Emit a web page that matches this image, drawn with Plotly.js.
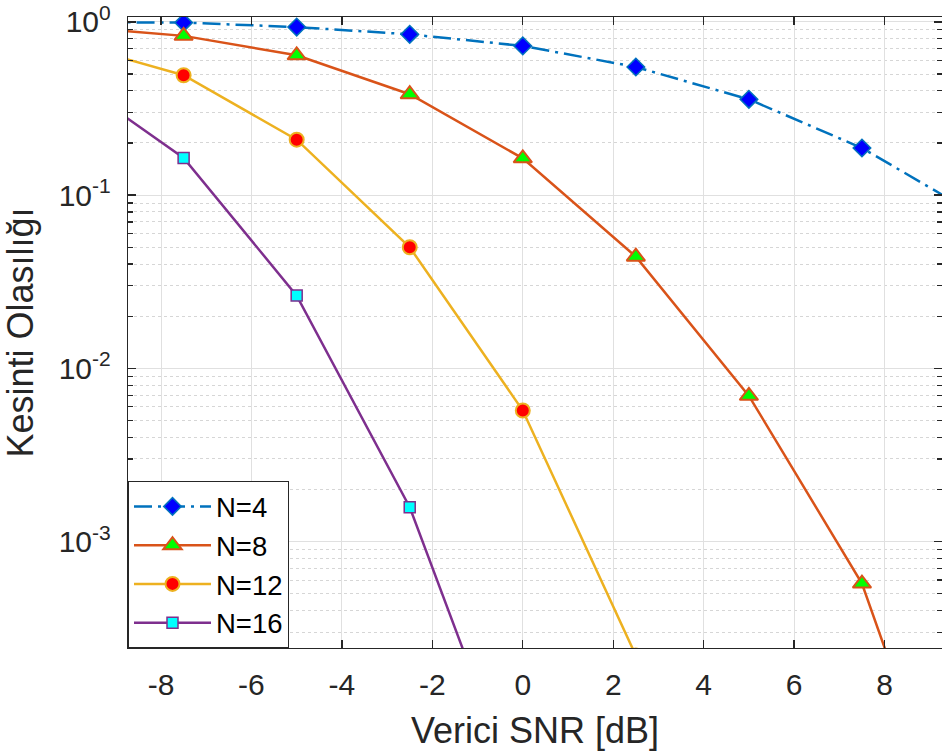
<!DOCTYPE html>
<html>
<head>
<meta charset="utf-8">
<script src="https://cdn.plot.ly/plotly-3.0.1.min.js"></script>
<style>
html, body { margin: 0; padding: 0; background: #ffffff; }
#chart { width: 942px; height: 755px; }
</style>
</head>
<body>
<div id="chart"></div>
<script>
// SNR grid (dB) of the simulated points
const snr = [-10, -7.5, -5, -2.5, 0, 2.5, 5, 7.5, 10];
// Outage probability
const pN4  = [0.997, 0.99, 0.933, 0.847, 0.726, 0.549, 0.357, 0.187, 0.078];
const pN8  = [0.94, 0.83, 0.641, 0.382, 0.163, 0.0441, 0.00694, 0.000573, 0.0000081];
const pN12 = [0.752, 0.492, 0.209, 0.050, 0.00571, 0.00022];
const pN16 = [0.473, 0.164, 0.0263, 0.00158, 0.0000286];
const seriesNames = ['N=4', 'N=8', 'N=12', 'N=16'];

// Tick labels
const xTickVals = [-8, -6, -4, -2, 0, 2, 4, 6, 8];
const xTickText = ['-8', '-6', '-4', '-2', '0', '2', '4', '6', '8'];
const yTickVals = [1, 0.1, 0.01, 0.001];
const yTickText = ['10<sup>0</sup>', '10<sup>-1</sup>', '10<sup>-2</sup>', '10<sup>-3</sup>'];
const yMinorMantissas = [2, 3, 4, 5, 6, 7, 8, 9];
const yMinorDecades = [0.0001, 0.001, 0.01, 0.1];

const yMinorVals = [];
yMinorDecades.forEach(d => yMinorMantissas.forEach(m => yMinorVals.push(m * d)));

const traces = [
  {
    x: snr, y: pN4, name: seriesNames[0], type: 'scatter', mode: 'lines+markers',
    line: { color: '#0072BD', width: 2.5, dash: '18px,6px,3px,6px' },
    marker: { symbol: 'diamond', size: 13.5, color: '#0000FF', line: { color: '#0072BD', width: 1.5 } }
  },
  {
    x: snr, y: pN8, name: seriesNames[1], type: 'scatter', mode: 'lines+markers',
    line: { color: '#D95319', width: 2.5 },
    marker: { symbol: 'triangle-up', size: 16, color: '#00FF00', line: { color: '#D95319', width: 2 } }
  },
  {
    x: snr.slice(0, pN12.length), y: pN12, name: seriesNames[2], type: 'scatter', mode: 'lines+markers',
    line: { color: '#EDB120', width: 2.5 },
    marker: { symbol: 'circle', size: 14, color: '#FF0000', line: { color: '#EDB120', width: 2 } }
  },
  {
    x: snr.slice(0, pN16.length), y: pN16, name: seriesNames[3], type: 'scatter', mode: 'lines+markers',
    line: { color: '#7E2F8E', width: 2.5 },
    marker: { symbol: 'square', size: 11, color: '#00FFFF', line: { color: '#7E2F8E', width: 1.5 } }
  }
];

const axisColor = '#262626';
const fontFamily = '"Liberation Sans", Arial, Helvetica, sans-serif';

const layout = {
  width: 942, height: 755,
  margin: { l: 128, r: 0, t: 17, b: 107, pad: 0 },
  paper_bgcolor: '#ffffff', plot_bgcolor: '#ffffff',
  font: { family: fontFamily, color: axisColor },
  showlegend: true,
  legend: {
    x: 0, y: 0, xanchor: 'left', yanchor: 'bottom',
    bgcolor: '#ffffff', bordercolor: axisColor, borderwidth: 1,
    font: { size: 27.5, color: '#000000' }, itemwidth: 77, traceorder: 'normal'
  },
  xaxis: {
    range: [-8.73, 9.27], tickmode: 'array', tickvals: xTickVals, ticktext: xTickText,
    ticks: 'inside', ticklen: 8, tickwidth: 1.3, tickcolor: axisColor,
    showline: true, linecolor: axisColor, linewidth: 1.3, mirror: 'allticks',
    showgrid: true, gridcolor: '#e0e0e0', gridwidth: 1, zeroline: false,
    tickfont: { size: 30, color: axisColor }, ticklabelstandoff: 10,
    title: { text: 'Verici SNR [dB]', font: { size: 36, color: axisColor }, standoff: 17 }
  },
  yaxis: {
    type: 'log', range: [-3.614, 0.028], tickmode: 'array', tickvals: yTickVals, ticktext: yTickText,
    ticks: 'inside', ticklen: 8, tickwidth: 1.3, tickcolor: axisColor,
    showline: true, linecolor: axisColor, linewidth: 1.3, mirror: 'allticks',
    showgrid: true, gridcolor: '#e0e0e0', gridwidth: 1, zeroline: false,
    tickfont: { size: 30, color: axisColor }, ticklabelstandoff: 10,
    minor: {
      tickmode: 'array', tickvals: yMinorVals, ticks: 'inside', ticklen: 5,
      tickcolor: axisColor, showgrid: true, gridcolor: '#d6d6d6', gridwidth: 1, griddash: '3px,3px'
    },
    title: { text: 'Kesinti Olasılığı', font: { size: 36, color: axisColor }, standoff: 14 }
  }
};

Plotly.newPlot('chart', traces, layout, { displayModeBar: false, staticPlot: true });
</script>
</body>
</html>
